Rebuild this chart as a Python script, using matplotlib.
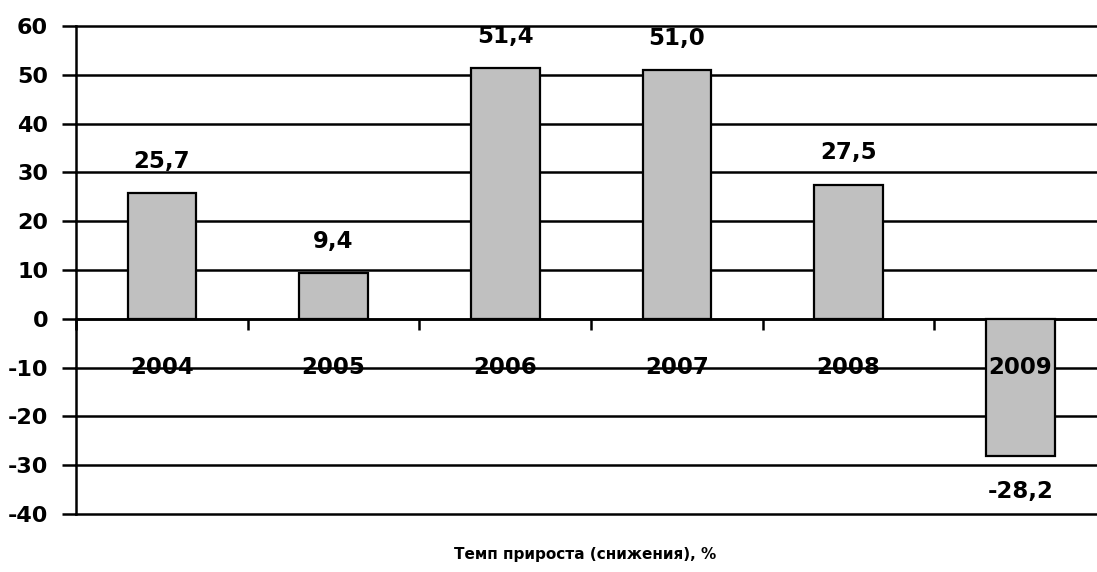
import numpy as np
import matplotlib
matplotlib.use('Agg')
import matplotlib.pyplot as plt

years = ['2004', '2005', '2006', '2007', '2008', '2009']
values = [25.7, 9.4, 51.4, 51.0, 27.5, -28.2]
value_labels = ['25,7', '9,4', '51,4', '51,0', '27,5', '-28,2']
title = 'Темп прироста (снижения), %'

plt.rcParams['font.family'] = ['DejaVu Sans']
plt.rcParams['font.weight'] = 'bold'
plt.rcParams['axes.unicode_minus'] = False

fig = plt.figure(figsize=(10.97, 5.72), dpi=100)
# plot area runs past the right edge of the picture, as in the reference
ax = fig.add_axes([0.0693, 0.1014, 0.939, 0.853])

x = np.arange(len(years))
ax.bar(x, values, width=0.4, color='#c0c0c0', edgecolor='black',
       linewidth=1.6, zorder=3)

ax.set_xlim(-0.5, len(years) - 0.5)
ax.set_ylim(-40, 60)
ax.set_yticks(np.arange(-40, 61, 10))
ax.yaxis.grid(True, color='black', linewidth=1.8, zorder=1)
ax.set_axisbelow(True)
for gl in ax.get_ygridlines():
    gl.set_clip_on(False)

# category boundaries as tick marks on the zero line
ax.set_xticks(np.arange(-0.5, len(years), 1.0))
ax.set_xticklabels([])
ax.spines['bottom'].set_position(('data', 0))
ax.spines['bottom'].set_linewidth(1.8)
ax.spines['left'].set_linewidth(1.8)
ax.spines['top'].set_visible(False)
ax.spines['right'].set_visible(False)
ax.tick_params(axis='x', direction='out', length=8, width=1.8)
ax.tick_params(axis='y', direction='out', length=10, width=1.8, pad=10,
               labelsize=16)
for lab in ax.get_yticklabels():
    lab.set_fontweight('bold')

# year labels sit at the -10 level
for xi, yr in zip(x, years):
    ax.text(xi, -10, yr, ha='center', va='center', fontsize=16.5,
            fontweight='bold', zorder=4)

# value labels
for xi, v, s in zip(x, values, value_labels):
    off = 23 if v >= 0 else -25
    ax.annotate(s, xy=(xi, v), xytext=(0, off), textcoords='offset points',
                ha='center', va='center', fontsize=16.5, fontweight='bold')

fig.text(0.533, 0.03, title, ha='center', va='center', fontsize=11,
         fontweight='bold')

plt.savefig('out.png', dpi=100)
